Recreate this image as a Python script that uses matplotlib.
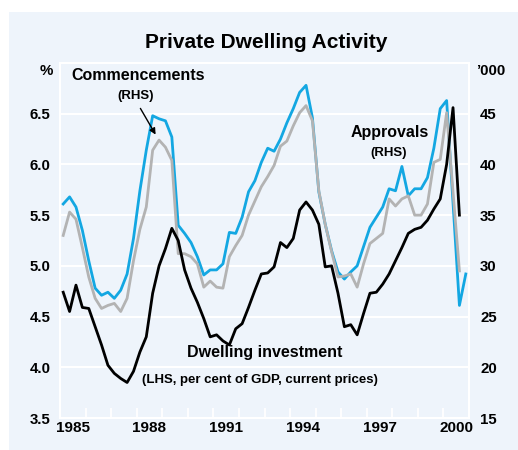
import numpy as np
import matplotlib
matplotlib.use('Agg')
from matplotlib import pyplot as plt
from matplotlib.patches import Rectangle

plt.rcParams['font.family'] = ['Liberation Sans', 'DejaVu Sans']
plt.rcParams['font.weight'] = 'bold'

# quarterly data, first quarter is 1985 Q1
first_year = 1985

# dwelling approvals, '000 (RHS)
approvals = [36.1, 36.8, 35.8, 33.5, 30.5, 27.8, 27.1, 27.4, 26.8, 27.6,
             29.2, 32.7, 37.4, 41.4, 44.8, 44.5, 44.3, 42.7, 34.0, 33.2,
             32.3, 30.9, 29.1, 29.6, 29.6, 30.2, 33.3, 33.2, 34.8, 37.3,
             38.4, 40.2, 41.6, 41.3, 42.5, 44.1, 45.5, 47.1, 47.8, 44.6,
             37.3, 34.1, 31.5, 29.4, 28.7, 29.4, 30.0, 31.9, 33.8, 34.8,
             35.8, 37.6, 37.4, 39.8, 36.9, 37.6, 37.6, 38.7, 41.6, 45.5,
             46.3, 36.2, 26.1, 29.2]

# dwelling commencements, '000 (RHS)
commencements = [33.0, 35.3, 34.6, 31.8, 28.9, 26.8, 25.8, 26.1, 26.3, 25.5,
                 26.8, 30.5, 33.6, 35.8, 41.4, 42.4, 41.7, 40.4, 31.2, 31.2,
                 30.9, 30.2, 27.9, 28.5, 27.9, 27.8, 30.9, 32.0, 33.0, 35.0,
                 36.4, 37.8, 38.8, 39.9, 41.8, 42.3, 43.8, 45.1, 45.8, 44.3,
                 37.4, 34.1, 31.4, 28.9, 29.0, 29.2, 27.9, 30.2, 32.2, 32.7,
                 33.2, 36.6, 35.9, 36.6, 36.9, 35.0, 35.0, 36.1, 40.2, 40.5,
                 45.1, 37.3, 29.5]

# dwelling investment, per cent of GDP (LHS)
investment = [4.74, 4.55, 4.81, 4.59, 4.58, 4.40, 4.22, 4.02, 3.94, 3.89,
              3.85, 3.96, 4.15, 4.30, 4.73, 5.00, 5.17, 5.37, 5.25, 4.96,
              4.78, 4.64, 4.48, 4.30, 4.32, 4.26, 4.22, 4.38, 4.43, 4.59,
              4.76, 4.92, 4.93, 4.99, 5.23, 5.18, 5.27, 5.55, 5.63, 5.55,
              5.41, 4.99, 5.00, 4.73, 4.40, 4.42, 4.32, 4.53, 4.73, 4.74,
              4.82, 4.92, 5.05, 5.18, 5.32, 5.36, 5.38, 5.45, 5.56, 5.66,
              6.00, 6.56, 5.50]

left_ticks = [3.5, 4.0, 4.5, 5.0, 5.5, 6.0, 6.5]
right_ticks = [15, 20, 25, 30, 35, 40, 45]
year_labels = [1985, 1988, 1991, 1994, 1997, 2000]


def quarters(series):
    # plot each quarter in the middle of its span
    return first_year + (np.arange(len(series)) + 0.5) / 4


bg = '#EEF4FB'
blue = '#13A7E2'
grey = '#B3B3B3'

W, H = 518, 450
fig = plt.figure(figsize=(W / 100, H / 100), dpi=100)
fig.patches.append(Rectangle((9 / W, 0), 1, 1 - 12 / H, transform=fig.transFigure,
                             facecolor=bg, edgecolor='none', zorder=0))


def px(x, y):
    return x / W, 1 - y / H


ax = fig.add_axes([60 / W, 1 - 418 / H, 409 / W, 355 / H])
ax2 = ax.twinx()
ax.set_zorder(2)
ax2.set_zorder(1)
ax.patch.set_visible(False)
ax2.set_facecolor(bg)

ax2.plot(quarters(approvals), approvals, color=blue, lw=2)
ax2.plot(quarters(commencements), commencements, color=grey, lw=2)
ax.plot(quarters(investment), investment, color='black', lw=2)

ax.set_xlim(1985, 2001)
ax.set_ylim(3.5, 7.0)
ax2.set_ylim(15, 50)

ax.set_yticks(left_ticks)
ax.set_yticklabels(['%.1f' % v for v in left_ticks])
ax2.set_yticks(right_ticks)
ax2.set_yticklabels([str(v) for v in right_ticks])
ax2.grid(axis='y', color='white', lw=1.5)
ax2.set_axisbelow(True)

# year boundaries as tick marks, year labels centred on each year
ax.set_xticks(range(1986, 2001))
ax.set_xticklabels([])
ax.set_xticks([y + 0.5 for y in year_labels], minor=True)
ax.set_xticklabels([str(y) for y in year_labels], minor=True)
ax.tick_params(axis='x', which='major', direction='in', length=7, width=1.3,
               color='white')
ax.tick_params(axis='x', which='minor', length=0, pad=2, labelsize=11)
ax.tick_params(axis='y', length=0, pad=7, labelsize=10.8)
ax2.tick_params(axis='y', length=0, pad=8, labelsize=10.8)

for a in (ax, ax2):
    for s in a.spines.values():
        s.set_color('white')
        s.set_linewidth(1.5)

fig.text(*px(266, 43), 'Private Dwelling Activity', ha='center', va='center',
         fontsize=15, fontweight='bold')
fig.text(*px(46, 71), '%', ha='center', va='center', fontsize=10.8)
fig.text(*px(491, 71), '\u2019000', ha='center', va='center', fontsize=10.8)

fig.text(*px(138, 75), 'Commencements', ha='center', va='center', fontsize=11.5)
fig.text(*px(136, 96), '(RHS)', ha='center', va='center', fontsize=9.5)
ax.annotate('', xy=px(157, 137), xytext=px(139, 106),
            xycoords='figure fraction', textcoords='figure fraction',
            arrowprops=dict(arrowstyle='-|>', color='black', lw=1,
                            mutation_scale=9))

fig.text(*px(390, 132), 'Approvals', ha='center', va='center', fontsize=11.5)
fig.text(*px(389, 153), '(RHS)', ha='center', va='center', fontsize=9.5)

fig.text(*px(265, 353), 'Dwelling investment', ha='center', va='center',
         fontsize=11.5)
fig.text(*px(260, 380), '(LHS, per cent of GDP, current prices)', ha='center',
         va='center', fontsize=9.5)

fig.savefig('out.png', dpi=100)
